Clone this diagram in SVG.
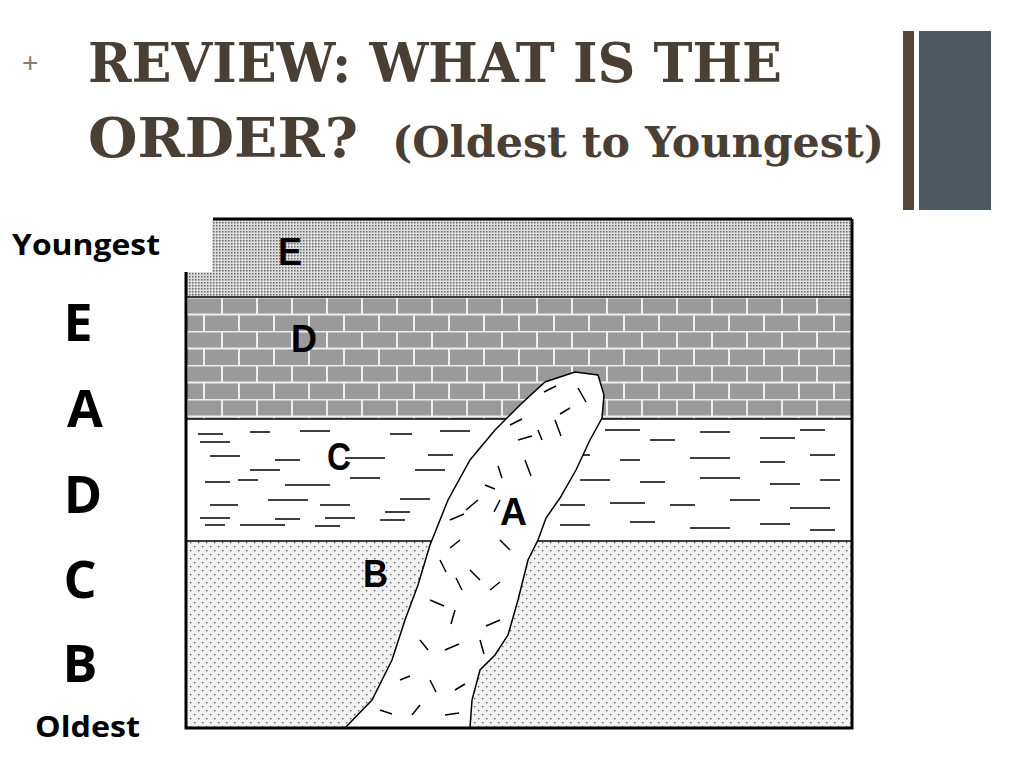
<svg xmlns="http://www.w3.org/2000/svg" width="1024" height="768" viewBox="0 0 1024 768">
<style>
.t{font-family:"DejaVu Serif","Liberation Serif",serif;font-weight:bold;fill:#4a3f35}
.l{font-family:"Open Sans","Liberation Sans",sans-serif;font-weight:bold;fill:#000}
.g{font-family:"Liberation Sans",sans-serif;font-weight:bold;fill:#000;font-size:38px}
.dash{stroke:#000;stroke-width:1.5}
</style>
<defs>
<pattern id="pe" width="3" height="3" patternUnits="userSpaceOnUse"><rect width="3" height="3" fill="#ddd"/><rect width="1.5" height="1.5" fill="#666"/></pattern>
<pattern id="pd" x="186" y="297" width="70" height="34" patternUnits="userSpaceOnUse"><rect width="70" height="34" fill="#9a9a9a"/><path d="M0 0.5H70M0 17.5H70M1 0V17M36 0V17M18 17V34M53 17V34" stroke="#eee" stroke-width="2"/></pattern>
<pattern id="pb" width="8" height="8" patternUnits="userSpaceOnUse"><rect width="8" height="8" fill="#f2f2f2"/><rect x="2" y="2" width="1.3" height="1.3" fill="#555"/><rect x="6" y="6" width="1.3" height="1.3" fill="#555"/></pattern>
</defs>
<rect width="1024" height="768" fill="#fff"/>
<g id="title">
<text x="22" y="72" font-family="Liberation Sans,sans-serif" font-size="28" fill="#8a7b68">+</text>
<text class="t" x="88" y="82" font-size="54" textLength="694" lengthAdjust="spacingAndGlyphs">REVIEW: WHAT IS THE</text>
<text class="t" x="88" y="157" font-size="54" textLength="270" lengthAdjust="spacingAndGlyphs">ORDER?</text>
<text class="t" x="392" y="157" font-size="42" textLength="492" lengthAdjust="spacingAndGlyphs">(Oldest to Youngest)</text>
</g>
<g id="bars">
<rect x="903" y="31" width="11" height="179" fill="#53473a"/>
<rect x="919" y="31" width="72" height="179" fill="#4c5960"/>
</g>
<g id="diagram">
<rect x="186" y="220" width="666" height="77" fill="url(#pe)"/>
<rect x="186" y="297" width="666" height="122" fill="url(#pd)"/>
<rect x="186" y="419" width="666" height="122" fill="#fff"/>
<rect x="186" y="541" width="666" height="187" fill="url(#pb)"/>
<path d="M186 297H852M186 419H852M186 541H852" stroke="#000" stroke-width="1.5"/>
<g class="dash">
<path d="M198 434h25M250 432h20M300 431h30M390 434h22M440 431h30M210 456h30M275 460h25M345 458h40M250 470h30M205 482h25M238 480h20M285 485h45M350 478h30M210 505h28M268 500h40M320 505h30M200 518h30M275 519h25M325 518h30M385 512h25M205 525h20M240 525h45M315 526h25M380 520h25M400 499h30M415 470h30M428 455h25M605 430h35M650 440h25M700 432h30M760 438h35M800 430h25M560 455h30M620 460h20M690 458h40M760 462h25M810 455h25M580 480h30M640 482h25M700 478h40M770 484h30M820 480h20M560 505h25M610 503h35M670 505h25M730 500h30M790 508h40M560 525h30M630 522h25M690 528h40M760 524h30M810 530h25M200 442h30"/>
</g>
<path d="M345 728 L372 700 L392 660 L405 620 L418 585 L430 545 L448 500 L470 460 L495 430 L520 405 L545 382 L575 372 L598 375 L604 395 L602 418 L590 440 L576 470 L560 498 L546 518 L538 540 L528 560 L518 600 L508 635 L495 655 L480 670 L472 700 L470 728 Z" fill="#fff" stroke="#000" stroke-width="1.5"/>
<g class="dash" stroke-width="1.2">
<path d="M544 392l12-6M578 388l8 14M570 408l-10 6M555 420l6 16M510 425l12-6M518 440l14-4M538 430l4 10M525 460l6 16M498 466l4 12M485 485l10 4M478 500l-12 10M450 520l14-6M460 540l-10 8M440 560l6 12M470 570l10 10M430 600l14 6M455 610l-4 14M490 590l10-8M500 620l-14 6M420 640l8 10M445 650l14-6M480 640l4 14M400 680l10-4M430 680l6 12M455 690l10-6M380 710l12 4M420 705l-8 10M445 715l14-2M500 540l10 10M462 590l-6-12M500 500l-6 12"/>
</g>
<rect x="180" y="210" width="32" height="62" fill="#fff"/>
<path d="M213 219H852M186 272V728H852V219" fill="none" stroke="#000" stroke-width="3"/>
<text class="g" x="278" y="265" textLength="24" lengthAdjust="spacingAndGlyphs">E</text>
<text class="g" x="291" y="352" textLength="26" lengthAdjust="spacingAndGlyphs">D</text>
<text class="g" x="327" y="470" textLength="24" lengthAdjust="spacingAndGlyphs">C</text>
<text class="g" x="500" y="525" textLength="27" lengthAdjust="spacingAndGlyphs">A</text>
<text class="g" x="363" y="587" textLength="25" lengthAdjust="spacingAndGlyphs">B</text>
</g>
<g id="labels">
<text class="l" x="12" y="255" font-size="29" textLength="148" lengthAdjust="spacingAndGlyphs">Youngest</text>
<text class="l" x="78" y="341" font-size="52" text-anchor="middle">E</text>
<text class="l" x="85" y="427" font-size="52" text-anchor="middle">A</text>
<text class="l" x="83" y="513" font-size="52" text-anchor="middle">D</text>
<text class="l" x="80" y="598" font-size="52" text-anchor="middle">C</text>
<text class="l" x="80" y="682" font-size="52" text-anchor="middle">B</text>
<text class="l" x="35" y="737" font-size="29" textLength="105" lengthAdjust="spacingAndGlyphs">Oldest</text>
</g>
</svg>
